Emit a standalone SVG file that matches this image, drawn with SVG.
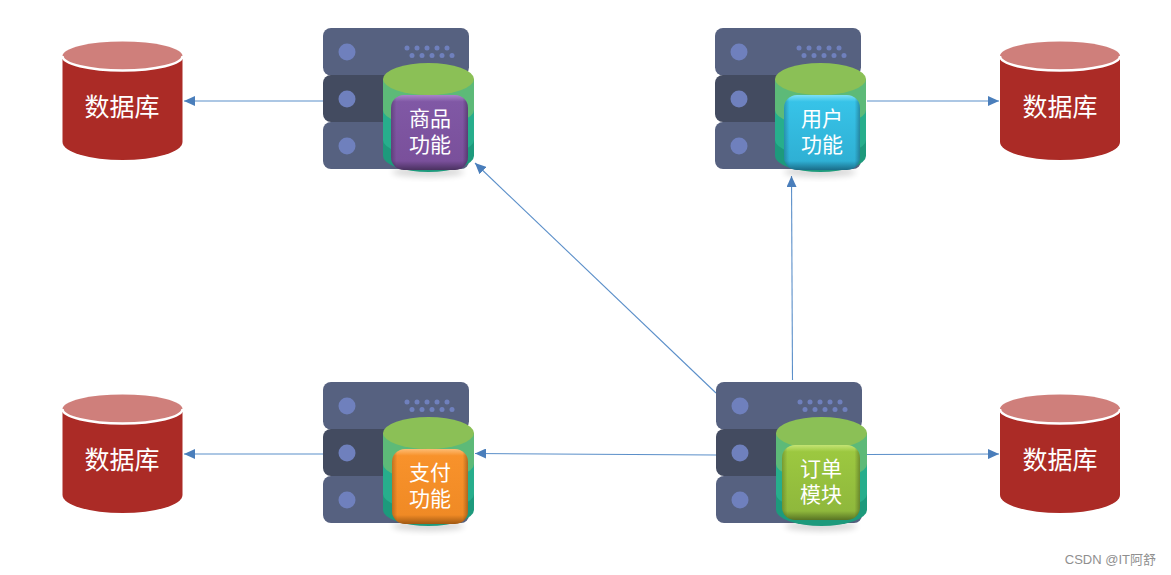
<svg xmlns="http://www.w3.org/2000/svg" width="1171" height="575" viewBox="0 0 1171 575">
<style>
.lbl{font-family:"Noto Sans CJK SC","Liberation Sans",sans-serif;fill:#fff;text-anchor:middle}
.fn{font-size:21px}.dbt{font-size:25px}
.conn{fill:none;stroke:#5b8fc9;stroke-width:1.1;marker-end:url(#arr)}
.wm{font-family:"Liberation Sans","Noto Sans CJK SC",sans-serif;font-size:13px;fill:#8f8f8f;text-anchor:end}
.bevel{fill:url(#side)}
.rim{fill:none;stroke:#000;stroke-opacity:.18;stroke-width:1.5}
</style>
<defs>
<marker id="arr" markerUnits="userSpaceOnUse" markerWidth="12" markerHeight="10" refX="11" refY="5" orient="auto"><path d="M0 0L11 5L0 10Z" fill="#4a7ebb"/></marker>
<linearGradient id="side" x1="0" y1="0" x2="1" y2="0"><stop offset="0" stop-color="#000" stop-opacity=".22"/><stop offset=".07" stop-color="#000" stop-opacity="0"/><stop offset=".93" stop-color="#000" stop-opacity="0"/><stop offset="1" stop-color="#000" stop-opacity=".28"/></linearGradient>
<linearGradient id="gp" x1="0" y1="0" x2="0" y2="1"><stop offset="0" stop-color="#a884c8"/><stop offset=".09" stop-color="#8058a5"/><stop offset=".88" stop-color="#7a509b"/><stop offset="1" stop-color="#4a3160"/></linearGradient>
<linearGradient id="gb" x1="0" y1="0" x2="0" y2="1"><stop offset="0" stop-color="#7de0f6"/><stop offset=".09" stop-color="#37c3e8"/><stop offset=".88" stop-color="#2fb0d4"/><stop offset="1" stop-color="#1a6c88"/></linearGradient>
<linearGradient id="go" x1="0" y1="0" x2="0" y2="1"><stop offset="0" stop-color="#fdbc74"/><stop offset=".09" stop-color="#f8922b"/><stop offset=".88" stop-color="#f08a25"/><stop offset="1" stop-color="#a05812"/></linearGradient>
<linearGradient id="gg" x1="0" y1="0" x2="0" y2="1"><stop offset="0" stop-color="#c4e474"/><stop offset=".09" stop-color="#9cc840"/><stop offset=".88" stop-color="#8fb83c"/><stop offset="1" stop-color="#587424"/></linearGradient>
<filter id="sh" x="-20%" y="-50%" width="140%" height="200%"><feGaussianBlur stdDeviation="3"/></filter>
<g id="server">
<rect x="0" y="0" width="146" height="47.500" rx="8" fill="#566180"/>
<rect x="0" y="47" width="146" height="47" rx="8" fill="#434b60"/>
<rect x="0" y="94" width="146" height="47" rx="8" fill="#566180"/>
<g fill="#6f80bd"><circle cx="24" cy="24" r="8.500"/><circle cx="24" cy="71" r="8.500"/><circle cx="24" cy="118" r="8.500"/>
<circle cx="84" cy="20" r="2.500"/><circle cx="94" cy="20" r="2.500"/><circle cx="104" cy="20" r="2.500"/><circle cx="114" cy="20" r="2.500"/><circle cx="124" cy="20" r="2.500"/><circle cx="89" cy="27.500" r="2.500"/><circle cx="99" cy="27.500" r="2.500"/><circle cx="109" cy="27.500" r="2.500"/><circle cx="119" cy="27.500" r="2.500"/><circle cx="129" cy="27.500" r="2.500"/></g>
<ellipse cx="105" cy="144" rx="36" ry="5" fill="#000" opacity=".16" filter="url(#sh)"/>
<path d="M60 51V128A45.500 16 0 0 0 151 128V51Z" fill="#1d9a7c"/>
<path d="M60 51V112A45.500 16 0 0 0 151 112V51Z" fill="#27ae8c"/>
<path d="M60 51V82A45.500 16 0 0 0 151 82V51Z" fill="#5dba78"/>
<ellipse cx="105.500" cy="51" rx="45.500" ry="16" fill="#8bc056"/>
</g>
<g id="db">
<path d="M0 18V101A60 18 0 0 0 120 101V18Z" fill="#ab2b26"/>
<ellipse cx="60" cy="15" rx="60" ry="14.500" fill="#cf7f7b"/>
<path d="M0 15A60 14.500 0 0 0 120 15" fill="none" stroke="#fff" stroke-width="2.500"/>
</g>
</defs>
<g id="connectors">
<path class="conn" d="M323 101H184"/>
<path class="conn" d="M867 101H999"/>
<path class="conn" d="M323 454H184"/>
<path class="conn" d="M867 454.500L999 454"/>
<path class="conn" d="M716 455L475 453.500"/>
<path class="conn" d="M792.500 380L791.500 176"/>
<path class="conn" d="M716 393L475 163"/>
</g>
<g id="db-1"><use href="#db" x="62.500" y="41"/><text class="lbl dbt" x="122" y="116">数据库</text></g>
<g id="db-2"><use href="#db" x="1000" y="41"/><text class="lbl dbt" x="1060" y="116">数据库</text></g>
<g id="db-3"><use href="#db" x="62.500" y="394"/><text class="lbl dbt" x="122" y="469">数据库</text></g>
<g id="db-4"><use href="#db" x="1000" y="394"/><text class="lbl dbt" x="1060" y="469">数据库</text></g>
<g id="node-goods"><use href="#server" x="323" y="28"/><rect x="391" y="95" width="77" height="75" rx="13" fill="url(#gp)"/><rect class="bevel" x="391" y="95" width="77" height="75" rx="13"/><text class="lbl fn" x="430" y="126">商品<tspan x="430" dy="26">功能</tspan></text></g>
<g id="node-user"><use href="#server" x="715" y="28"/><rect x="784" y="95" width="76" height="75" rx="13" fill="url(#gb)"/><rect class="bevel" x="784" y="95" width="76" height="75" rx="13"/><text class="lbl fn" x="822" y="126">用户<tspan x="822" dy="26">功能</tspan></text></g>
<g id="node-pay"><use href="#server" x="323" y="382"/><rect x="392" y="449" width="76" height="75" rx="13" fill="url(#go)"/><rect class="bevel" x="392" y="449" width="76" height="75" rx="13"/><text class="lbl fn" x="430" y="480">支付<tspan x="430" dy="26">功能</tspan></text></g>
<g id="node-order"><use href="#server" x="716" y="382"/><rect x="782" y="445" width="78" height="75" rx="13" fill="url(#gg)"/><rect class="bevel" x="782" y="445" width="78" height="75" rx="13"/><text class="lbl fn" x="821" y="476">订单<tspan x="821" dy="26">模块</tspan></text></g>
<text class="wm" x="1156" y="564">CSDN @IT阿舒</text>
</svg>
